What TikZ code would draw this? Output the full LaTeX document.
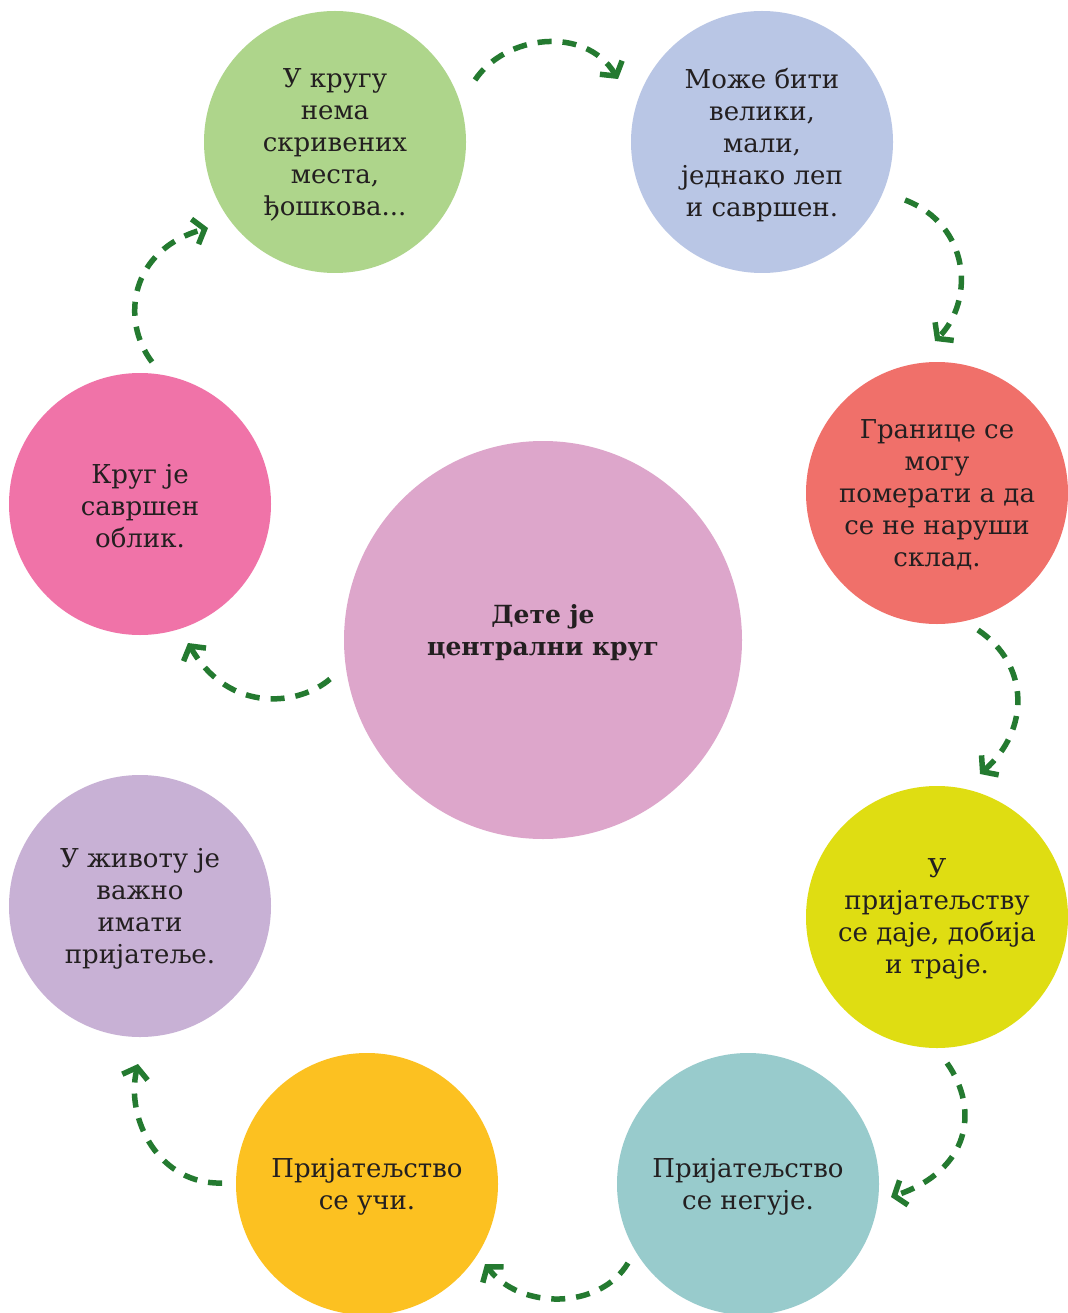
\documentclass[tikz,border=0pt]{standalone}
\usepackage{fontspec}
\setmainfont{DejaVu Serif}
\usetikzlibrary{arrows.meta}
\definecolor{cgreen}{HTML}{AED58B}
\definecolor{cblue}{HTML}{B9C6E5}
\definecolor{cred}{HTML}{F0706A}
\definecolor{cyellow}{HTML}{DFDD12}
\definecolor{cteal}{HTML}{98CBCC}
\definecolor{corange}{HTML}{FCC121}
\definecolor{clav}{HTML}{C8B1D5}
\definecolor{cpink}{HTML}{F073A8}
\definecolor{ccent}{HTML}{DDA6CB}
\definecolor{arrgreen}{HTML}{247A30}
\definecolor{txt}{HTML}{231F20}
\tikzset{
  bubble/.style={circle, minimum size=262pt, inner sep=0pt, align=center,
    text=txt, font=\fontsize{26}{32}\selectfont},
  bigbubble/.style={circle, minimum size=398pt, inner sep=0pt, align=center,
    text=txt, font=\bfseries\fontsize{25}{32}\selectfont},
  flow/.style={draw=arrgreen, line width=5.5pt, dash pattern=on 14pt off 11pt,
    -{Straight Barb[length=10pt, width=26pt, line width=5.5pt]}}
}
\begin{document}
\begin{tikzpicture}[x=1pt, y=-1pt]
\useasboundingbox (0,0) rectangle (1067,1313);
\fill[white] (0,0) rectangle (1067,1313);

\node[bubble, fill=cgreen] (g) at (335,142) {};
\node[bubble, fill=cblue] (b) at (762,142) {};
\node[bubble, fill=cred] (r) at (937,493) {};
\node[bubble, fill=cyellow] (y) at (937,917) {};
\node[bubble, fill=cteal] (t) at (748,1184) {};
\node[bubble, fill=corange] (o) at (367,1184) {};
\node[bubble, fill=clav] (l) at (140,906) {};
\node[bubble, fill=cpink] (p) at (140,504) {};
\node[bigbubble, fill=ccent] (c) at (543,640) {};

\node[bubble, anchor=center] (gt) at ([yshift=-3pt]g.center) {У кругу\\нема\\скривених\\места,\\ђошкова...};
\node[bubble] (bt) at ([yshift=-3pt]b.center) {Може бити\\велики,\\мали,\\једнако леп\\и савршен.};
\node[bubble] (rt) at ([yshift=-2pt]r.center) {Границе се\\могу\\померати а да\\се не наруши\\склад.};
\node[bubble] (yt) at ([yshift=-2pt]y.center) {У\\пријатељству\\се даје, добија\\и траје.};
\node[bubble] (tt) at ([yshift=-3pt]t.center) {Пријатељство\\се негује.};
\node[bubble] (ot) at ([yshift=-3pt]o.center) {Пријатељство\\се учи.};
\node[bubble] (lt) at ([yshift=-3pt]l.center) {У животу је\\важно\\имати\\пријатеље.};
\node[bubble] (pt) at ([yshift=-2pt]p.center) {Круг је\\савршен\\облик.};
\node[bigbubble] (ct) at ([yshift=7pt]c.center) {Дете је\\централни круг};

\coordinate (a1s) at (475,80);   \coordinate (a1e) at (618,79);
\coordinate (a2s) at (905,200);  \coordinate (a2e) at (935,341);
\coordinate (a3s) at (978,630);  \coordinate (a3e) at (980,774);
\coordinate (a4s) at (947,1063); \coordinate (a4e) at (891,1197);
\coordinate (a5s) at (628,1263); \coordinate (a5e) at (485,1264);
\coordinate (a6s) at (222,1183); \coordinate (a6e) at (138,1064);
\coordinate (a7s) at (330,679);  \coordinate (a7e) at (188,643);
\coordinate (a8s) at (152,362);  \coordinate (a8e) at (208,228);

\draw[flow] (a1s) .. controls (505,35) and (585,25) .. (a1e);
\draw[flow] (a2s) .. controls (970,225) and (975,300) .. (a2e);
\draw[flow] (a3s) .. controls (1030,665) and (1030,730) .. (a3e);
\draw[flow] (a4s) .. controls (980,1110) and (970,1170) .. (a4e);
\draw[flow] (a5s) .. controls (600,1310) and (520,1310) .. (a5e);
\draw[flow] (a6s) .. controls (160,1185) and (125,1120) .. (a6e);
\draw[flow] (a7s) .. controls (300,705) and (230,715) .. (a7e);
\draw[flow] (a8s) .. controls (120,320) and (130,250) .. (a8e);
\end{tikzpicture}
\end{document}
